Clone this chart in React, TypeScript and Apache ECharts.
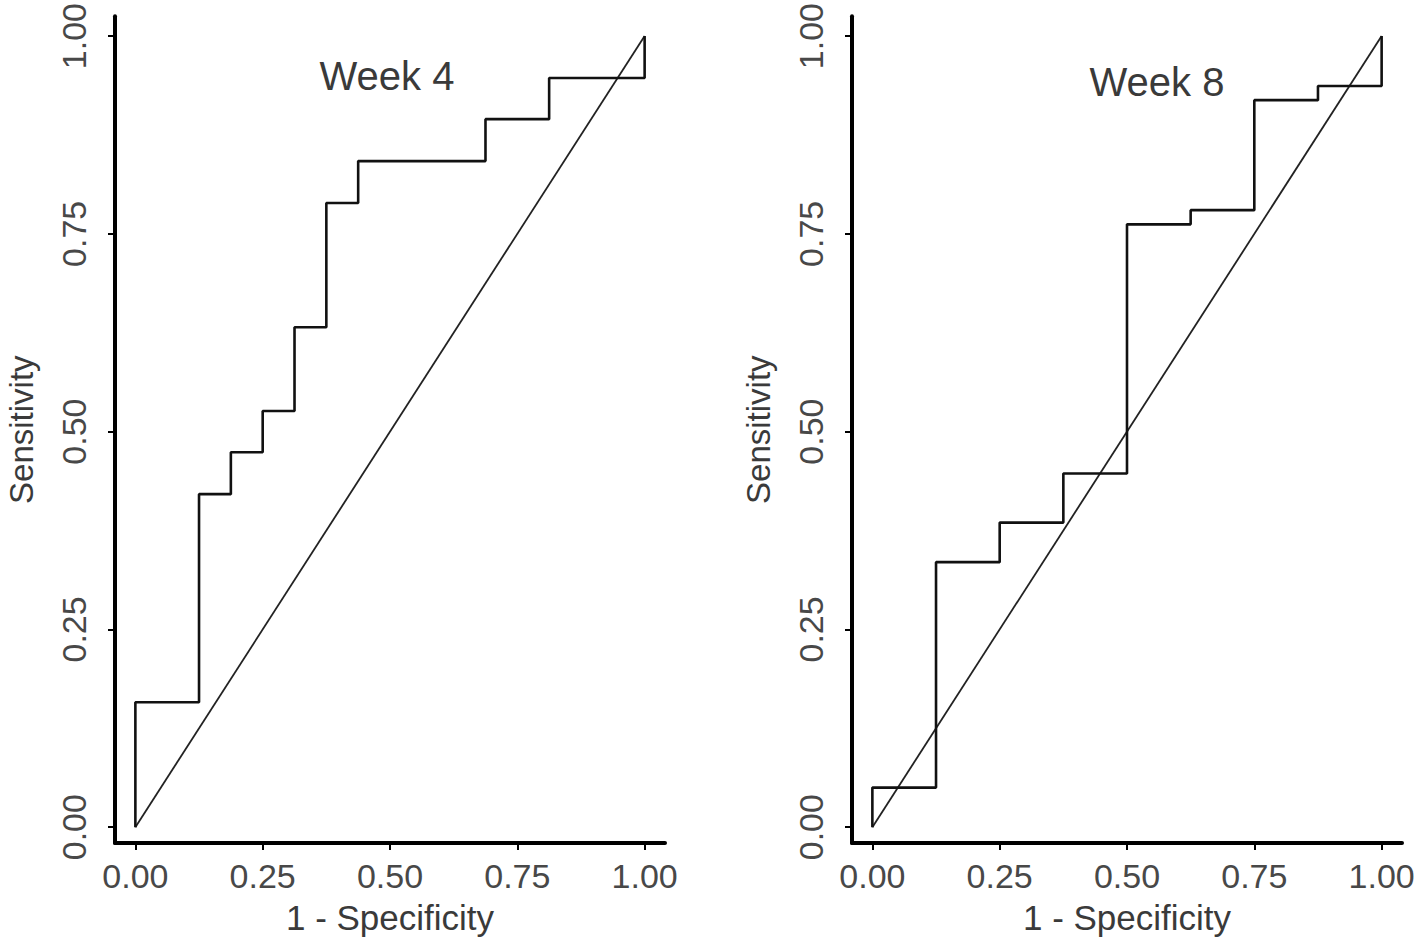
import React, { useEffect, useRef } from "react";
import * as echarts from "echarts";

// Week 4 ROC curve (1 - specificity, sensitivity)
const week4Fpr = [0, 0, 0.125, 0.125, 0.1875, 0.1875, 0.25, 0.25, 0.3125, 0.3125, 0.375, 0.375, 0.4375, 0.4375, 0.6875, 0.6875, 0.8125, 0.8125, 1, 1];
const week4Tpr = [0, 0.158, 0.158, 0.421, 0.421, 0.474, 0.474, 0.526, 0.526, 0.632, 0.632, 0.789, 0.789, 0.842, 0.842, 0.895, 0.895, 0.947, 0.947, 1];

// Week 8 ROC curve
const week8Fpr = [0, 0, 0.125, 0.125, 0.25, 0.25, 0.375, 0.375, 0.5, 0.5, 0.625, 0.625, 0.75, 0.75, 0.875, 0.875, 1, 1];
const week8Tpr = [0, 0.05, 0.05, 0.335, 0.335, 0.385, 0.385, 0.447, 0.447, 0.762, 0.762, 0.78, 0.78, 0.919, 0.919, 0.937, 0.937, 1];

// Reference diagonal
const diagX = [0, 1];
const diagY = [0, 1];

const tickValues = [0, 0.25, 0.5, 0.75, 1];
const panelTitles = ["Week 4", "Week 8"];
const xAxisTitle = "1 - Specificity";
const yAxisTitle = "Sensitivity";

const FONT = "'Liberation Sans', Arial, Helvetica, sans-serif";
const LABEL_COLOR = "#484848";
const TITLE_COLOR = "#3a3a3a";

function zip(xs: number[], ys: number[]) {
  return xs.map((x, i) => [x, ys[i]]);
}

export default function App() {
  const ref = useRef<HTMLDivElement>(null);

  useEffect(() => {
    if (!ref.current) return;
    const chart = echarts.init(ref.current, undefined, { renderer: "svg" });

    const gridLefts = [115, 852];
    const xAxes = [0, 1].map((i) => ({
      type: "value",
      gridIndex: i,
      min: -0.04,
      max: 1.04,
      axisLine: { show: true, onZero: false, lineStyle: { color: "#000", width: 4 } },
      axisTick: { show: true, customValues: tickValues, length: 7, lineStyle: { color: "#000", width: 2 } },
      axisLabel: {
        customValues: tickValues,
        formatter: (v: number) => v.toFixed(2),
        fontSize: 34,
        color: LABEL_COLOR,
        fontFamily: FONT,
        margin: 16,
      },
      splitLine: { show: false },
      name: xAxisTitle,
      nameLocation: "middle",
      nameGap: 57,
      nameTextStyle: { fontSize: 35, color: TITLE_COLOR, fontFamily: FONT },
    }));
    const yAxes = [0, 1].map((i) => ({
      type: "value",
      gridIndex: i,
      min: -0.02,
      max: 1.025,
      axisLine: { show: true, onZero: false, lineStyle: { color: "#000", width: 4 } },
      axisTick: { show: true, customValues: tickValues, length: 7, lineStyle: { color: "#000", width: 2 } },
      axisLabel: {
        customValues: tickValues,
        formatter: (v: number) => v.toFixed(2),
        fontSize: 34,
        color: LABEL_COLOR,
        fontFamily: FONT,
        rotate: 90,
        margin: 24,
      },
      splitLine: { show: false },
      name: yAxisTitle,
      nameLocation: "middle",
      nameGap: 77,
      nameTextStyle: { fontSize: 33, color: TITLE_COLOR, fontFamily: FONT },
    }));

    const option = {
      animation: false,
      backgroundColor: "#fff",
      grid: gridLefts.map((left) => ({ left, top: 14, width: 550, height: 829 })),
      xAxis: xAxes,
      yAxis: yAxes,
      graphic: [
        {
          type: "text",
          x: 387,
          y: 76,
          style: { text: panelTitles[0], align: "center", verticalAlign: "middle", fontSize: 40, fontFamily: FONT, fill: TITLE_COLOR },
        },
        {
          type: "text",
          x: 1157,
          y: 82,
          style: { text: panelTitles[1], align: "center", verticalAlign: "middle", fontSize: 40, fontFamily: FONT, fill: TITLE_COLOR },
        },
      ],
      series: [
        {
          type: "line",
          xAxisIndex: 0,
          yAxisIndex: 0,
          data: zip(diagX, diagY),
          showSymbol: false,
          lineStyle: { color: "#222", width: 1.8 },
        },
        {
          type: "line",
          xAxisIndex: 0,
          yAxisIndex: 0,
          data: zip(week4Fpr, week4Tpr),
          showSymbol: false,
          lineStyle: { color: "#111", width: 2.6 },
        },
        {
          type: "line",
          xAxisIndex: 1,
          yAxisIndex: 1,
          data: zip(diagX, diagY),
          showSymbol: false,
          lineStyle: { color: "#222", width: 1.8 },
        },
        {
          type: "line",
          xAxisIndex: 1,
          yAxisIndex: 1,
          data: zip(week8Fpr, week8Tpr),
          showSymbol: false,
          lineStyle: { color: "#111", width: 2.6 },
        },
      ],
    };

    chart.setOption(option as any);
    return () => chart.dispose();
  }, []);

  return (
    <div
      ref={ref}
      style={{ position: "fixed", left: 0, top: 0, width: 1418, height: 943, background: "#fff" }}
    />
  );
}
